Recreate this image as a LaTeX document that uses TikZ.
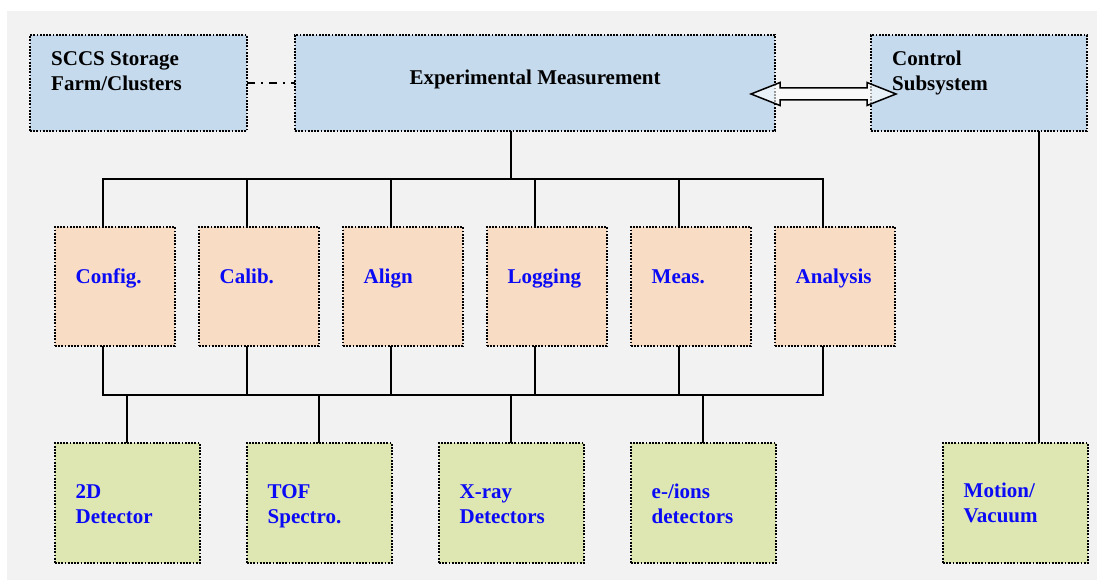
\documentclass[tikz,border=0pt]{standalone}
\usepackage{fontspec}
\setmainfont{Liberation Serif}
\usetikzlibrary{calc}
\definecolor{bgc}{HTML}{F2F2F2}
\definecolor{bluebox}{HTML}{C6DAEE}
\definecolor{orangebox}{HTML}{F8DCC3}
\definecolor{greenbox}{HTML}{DEE6B1}
\definecolor{txtblue}{HTML}{0A0AF5}
\begin{document}
\begin{tikzpicture}[x=1pt,y=-1pt,
  box/.style={draw=black, line width=1.8pt, dash pattern=on 1.8pt off 1.4pt,
    anchor=north west, inner sep=0pt, outer sep=0pt},
  topbox/.style={box, fill=bluebox, minimum height=96pt},
  midbox/.style={box, fill=orangebox, minimum width=120pt, minimum height=119pt},
  lowbox/.style={box, fill=greenbox, minimum width=145pt, minimum height=120pt},
  lbl/.style={font=\fontsize{21}{25}\selectfont\bfseries, align=left, inner sep=0pt, anchor=base west},
  blbl/.style={lbl, text=black},
  clbl/.style={lbl, text=txtblue},
  wire/.style={draw=black, line width=1.7pt},
  dashdot/.style={draw=black, line width=1.7pt, dash pattern=on 8pt off 6pt on 2pt off 6pt},
  dblarrow/.style={draw=black, line width=1.5pt, fill=white, fill opacity=0.6, line join=miter}
]
\useasboundingbox (0,0) rectangle (1097,580);
\fill[bgc] (7,11) rectangle (1097,580);

% top row
\node[topbox, minimum width=217pt] (sccs) at (30,35) {};
\node[topbox, minimum width=480pt] (exp) at (295,35) {};
\node[topbox, minimum width=216pt] (ctl) at (871,35) {};
\node[blbl] (sccs-t) at (51,90.7) {SCCS Storage\\Farm/Clusters};
\node[font=\fontsize{21}{25}\selectfont\bfseries, inner sep=0pt, anchor=base] (exp-t) at (535,84.3) {Experimental Measurement};
\node[blbl] (ctl-t) at (892,90.5) {Control\\Subsystem};

% middle row
\foreach \i/\t [count=\k from 0] in {m1/Config., m2/Calib., m3/Align, m4/Logging, m5/Meas., m6/Analysis}{
  \node[midbox] (\i) at (55+144*\k,227) {};
  \node[clbl] (\i-t) at (75.5+144*\k,283.3) {\t};
}

% bottom row
\foreach \i/\t [count=\k from 0] in {d1/{2D\\Detector}, d2/{TOF\\Spectro.}, d3/{X-ray\\Detectors}, d4/{e-/ions\\detectors}}{
  \node[lowbox] (\i) at (55+192*\k,443) {};
  \node[clbl] (\i-t) at (75.5+192*\k,523) {\t};
}
\node[lowbox] (mot) at (943,443) {};
\node[clbl] (mot-t) at (963.5,522.5) {Motion/\\Vacuum};

% bus junctions
\coordinate (tbus) at (511,179);
\coordinate (bbus) at (511,395);

% connectors
\draw[dashdot] (sccs.east) -- (exp.west);
\draw[wire] ([xshift=-24pt]exp.south) -- (tbus);
\foreach \i in {m1,m2,m3,m4,m5,m6}{
  \draw[wire] ([xshift=-12pt]\i.north) |- (tbus);
  \draw[wire] ([xshift=-12pt]\i.south) |- (bbus);
}
\foreach \i in {d1,d2,d3,d4}{
  \draw[wire] ([xshift=-0.5pt]\i.north) |- (bbus);
}
\draw[wire] ([xshift=60pt]ctl.south) -- ([xshift=60pt]ctl.south |- mot.north);

% double arrow between Experimental Measurement and Control Subsystem
\coordinate (al) at ([shift={(-24,11)}]exp.east);
\coordinate (ar) at ([shift={(25,11)}]ctl.west);
\draw[dblarrow] (al) -- ++(29,-11.5) -- ++(0,5.5) -- ($(ar)+(-29,-6)$) -- ++(0,-5.5)
  -- (ar) -- ++(-29,11.5) -- ++(0,-5.5) -- ($(al)+(29,6)$) -- ++(0,5.5) -- cycle;
\end{tikzpicture}
\end{document}
